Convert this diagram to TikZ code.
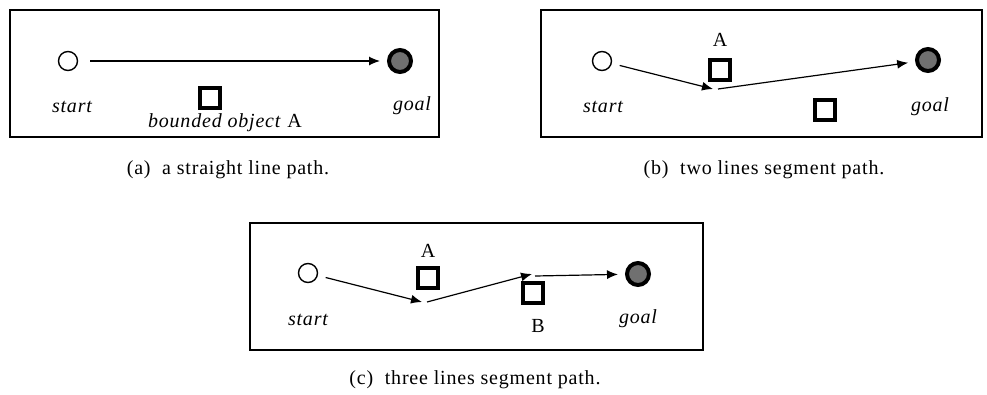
\documentclass[tikz,border=0pt]{standalone}
\usepackage{fontspec}
\setmainfont{Liberation Serif}
\newfontfamily\spacedrm[LetterSpace=4]{Liberation Serif}
\usetikzlibrary{arrows.meta,positioning}
\definecolor{goalfill}{HTML}{707070}

\begin{document}
\begin{tikzpicture}[x=1pt, y=-1pt,
	frame/.style={draw, line width=2pt},
	startpt/.style={circle, draw, line width=1.4pt, minimum size=19pt, inner sep=0pt},
	goalpt/.style={circle, draw, fill=goalfill, line width=4pt, minimum size=22pt, inner sep=0pt},
	obstacle/.style={draw, line width=4pt, minimum size=20pt, inner sep=0pt},
	lbl/.style={font=\fontsize{20}{22}\spacedrm\itshape},
	obj/.style={font=\fontsize{20}{22}\spacedrm},
	caption/.style={font=\fontsize{20}{22}\spacedrm},
	move/.style={-{Latex[length=11pt, width=9pt]}, line width=1.2pt}]
	\useasboundingbox (0,0) rectangle (987,394);

	% (a) straight line
	\draw[frame] (10,10) rectangle (439,137);
	\node[startpt] (sa) at (68,61) {};
	\node[goalpt] (ga) at (400,61) {};
	\node[obstacle] (oa) at (210,98) {};
	\node[lbl] (sta) at (72,107) {start};
	\node[lbl] (gla) at (412,106) {goal};
	\node[obj] (la) at (225,123) {\textit{bounded object} A};
	\draw[move, shorten <=12pt, shorten >=7pt] (sa) -- (ga);
	\node[caption] (capa) at (228,170) {(a)\ \ a straight line path.};

	% (b) two segments
	\draw[frame] (541,10) rectangle (982,137);
	\node[startpt] (sb) at (602,61) {};
	\node[goalpt] (gb) at (928,60) {};
	\node[obstacle] (ob1) at (720,70) {};
	\node[obj] (lb1) at (720,40) {A};
	\node[obstacle] (ob2) at (825,110) {};
	\node[lbl] (stb) at (603,107) {start};
	\node[lbl] (glb) at (930,107) {goal};
	\coordinate (wb1) at (713,89);
	\coordinate (wb2) at (718,89);
	\draw[move, shorten <=8pt] (sb) -- (wb1);
	\draw[move, shorten >=7pt] (wb2) -- (gb);
	\node[caption] (capb) at (764,170) {(b)\ \ two lines segment path.};

	% (c) three segments
	\draw[frame] (250,223) rectangle (703,350);
	\node[startpt] (sc) at (308,273) {};
	\node[goalpt] (gc) at (638,274) {};
	\node[obstacle] (oc1) at (428,278) {};
	\node[obj] (lc1) at (428,251) {A};
	\node[obstacle] (oc2) at (533,293) {};
	\node[obj] (lc2) at (538,326) {B};
	\node[lbl] (stc) at (308,320) {start};
	\node[lbl] (glc) at (638,319) {goal};
	\coordinate (wc1) at (422,302);
	\coordinate (wc2) at (427,302);
	\coordinate (wc3) at (532,274);
	\coordinate (wc4) at (535,276);
	\draw[move, shorten <=8pt] (sc) -- (wc1);
	\draw[move] (wc2) -- (wc3);
	\draw[move, shorten >=7pt] (wc4) -- (gc);
	\node[caption] (capc) at (475,380) {(c)\ \ three lines segment path.};
\end{tikzpicture}
\end{document}
